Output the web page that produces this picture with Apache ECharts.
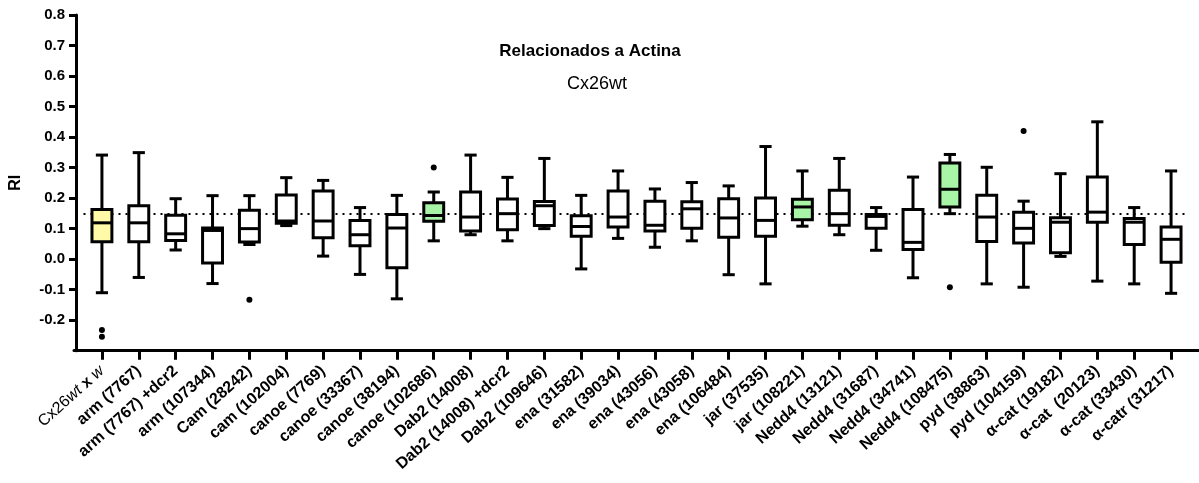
<!DOCTYPE html>
<html>
<head>
<meta charset="utf-8">
<script src="https://cdn.jsdelivr.net/npm/echarts@6/dist/echarts.min.js"></script>
<style>
  html, body { margin: 0; padding: 0; background: #fff; }
  #chart { width: 1199px; height: 483px; }
</style>
</head>
<body>
<div id="chart"></div>
<script>
// Genotype lines (x categories)
const categories = [
  'Cx26wt x w', 'arm (7767)', 'arm (7767) +dcr2', 'arm (107344)', 'Cam (28242)',
  'cam (102004)', 'canoe (7769)', 'canoe (33367)', 'canoe (38194)', 'canoe (102686)',
  'Dab2 (14008)', 'Dab2 (14008) +dcr2', 'Dab2 (109646)', 'ena (31582)', 'ena (39034)',
  'ena (43056)', 'ena (43058)', 'ena (106484)', 'jar (37535)', 'jar (108221)',
  'Nedd4 (13121)', 'Nedd4 (31687)', 'Nedd4 (34741)', 'Nedd4 (108475)', 'pyd (38863)',
  'pyd (104159)', 'α-cat (19182)', 'α-cat  (20123)', 'α-cat (33430)', 'α-catr (31217)'
];

// Box-and-whisker statistics of RI per line
const whiskerLow = [
  -0.110, -0.060, 0.030, -0.080, 0.048, 0.110, 0.010, -0.050, -0.130, 0.060,
  0.080, 0.060, 0.100, -0.032, 0.068, 0.039, 0.060, -0.051, -0.081, 0.108,
  0.080, 0.029, -0.061, 0.149, -0.081, -0.092, 0.009, -0.072, -0.081, -0.112
];
const quartile1 = [
  0.057, 0.057, 0.061, -0.013, 0.056, 0.118, 0.070, 0.044, -0.028, 0.124,
  0.092, 0.096, 0.110, 0.075, 0.105, 0.092, 0.101, 0.072, 0.075, 0.129,
  0.111, 0.101, 0.032, 0.171, 0.058, 0.053, 0.021, 0.121, 0.048, -0.010
];
const medians = [
  0.119, 0.119, 0.083, 0.094, 0.100, 0.125, 0.125, 0.080, 0.102, 0.143,
  0.138, 0.149, 0.175, 0.107, 0.138, 0.111, 0.165, 0.135, 0.127, 0.171,
  0.149, 0.140, 0.055, 0.229, 0.138, 0.101, 0.121, 0.154, 0.121, 0.065
];
const quartile3 = [
  0.163, 0.175, 0.144, 0.102, 0.160, 0.210, 0.223, 0.127, 0.146, 0.185,
  0.220, 0.197, 0.189, 0.142, 0.223, 0.190, 0.188, 0.198, 0.200, 0.196,
  0.226, 0.146, 0.163, 0.315, 0.209, 0.154, 0.136, 0.269, 0.133, 0.105
];
const whiskerHigh = [
  0.341, 0.349, 0.198, 0.208, 0.208, 0.267, 0.258, 0.169, 0.209, 0.220,
  0.341, 0.268, 0.330, 0.209, 0.289, 0.230, 0.251, 0.240, 0.369, 0.289,
  0.330, 0.169, 0.269, 0.343, 0.301, 0.190, 0.280, 0.450, 0.169, 0.289
];

// Individual points outside the whiskers: [category index, RI]
const outliers = [
  [0, -0.232], [0, -0.254], [4, -0.133], [9, 0.300], [23, -0.092], [25, 0.420]
];

// Reference level drawn as a dotted line
const referenceRI = 0.15;

// Y-axis tick values
const yTicks = [-0.2, -0.1, 0.0, 0.1, 0.2, 0.3, 0.4, 0.5, 0.6, 0.7, 0.8];

// Fill colours: control in yellow, selected lines in green
const controlFill = '#FFF9A8';
const hitFill = '#A8F5A8';
const boxFills = { 0: controlFill, 9: hitFill, 19: hitFill, 23: hitFill };

const boxData = categories.map((c, i) =>
  [i, whiskerLow[i], quartile1[i], medians[i], quartile3[i], whiskerHigh[i]]);

const tickFont = '"Liberation Sans", Arial, sans-serif';

function renderBox(params, api) {
  const i = api.value(0);
  const xc = api.coord([i, api.value(3)])[0];
  const yLow = api.coord([i, api.value(1)])[1];
  const yQ1 = api.coord([i, api.value(2)])[1];
  const yMed = api.coord([i, api.value(3)])[1];
  const yQ3 = api.coord([i, api.value(4)])[1];
  const yHigh = api.coord([i, api.value(5)])[1];
  const band = api.size([1, 0])[0];
  const hw = band * 0.27;
  const cw = band * 0.165;
  const line = { stroke: '#000', lineWidth: 3, fill: null };
  return {
    type: 'group',
    children: [
      { type: 'line', shape: { x1: xc, y1: yLow, x2: xc, y2: yQ1 }, style: line },
      { type: 'line', shape: { x1: xc, y1: yQ3, x2: xc, y2: yHigh }, style: line },
      { type: 'line', shape: { x1: xc - cw, y1: yLow, x2: xc + cw, y2: yLow }, style: line },
      { type: 'line', shape: { x1: xc - cw, y1: yHigh, x2: xc + cw, y2: yHigh }, style: line },
      { type: 'rect', shape: { x: xc - hw, y: yQ3, width: 2 * hw, height: yQ1 - yQ3 },
        style: { fill: boxFills[i] || '#fff', stroke: '#000', lineWidth: 3 } },
      { type: 'line', shape: { x1: xc - hw, y1: yMed, x2: xc + hw, y2: yMed }, style: line }
    ]
  };
}

const chart = echarts.init(document.getElementById('chart'), null, { renderer: 'canvas' });

chart.setOption({
  animation: false,
  backgroundColor: '#fff',
  graphic: [
    { type: 'text', x: 590, y: 51,
      style: { text: 'Relacionados a Actina', font: 'bold 17px "Liberation Sans", Arial',
               fill: '#000', textAlign: 'center', textVerticalAlign: 'middle' } },
    { type: 'text', x: 597, y: 84,
      style: { text: 'Cx26wt', font: '18px "Liberation Sans", Arial',
               fill: '#000', textAlign: 'center', textVerticalAlign: 'middle' } }
  ],
  grid: [
    { left: 81.5, right: 9.5, top: 15, bottom: 132.3 },
    { left: 74, right: 0, top: 15, bottom: 132.3 }
  ],
  xAxis: [
    {
      type: 'category',
      gridIndex: 0,
      data: categories,
      boundaryGap: true,
      axisLine: { show: false, onZero: false },
      axisTick: { show: true, alignWithLabel: true, length: 9,
                  lineStyle: { color: '#000', width: 3 } },
      axisLabel: {
        interval: 0,
        rotate: 42,
        margin: 18,
        color: '#000',
        fontFamily: tickFont,
        fontWeight: 'bold',
        fontSize: 16,
        formatter: (v, idx) => idx === 0 ? '{n|Cx26}{i|wt}{b| x }{i|w}' : v,
        rich: {
          n: { fontFamily: tickFont, fontSize: 16, fontWeight: 'normal', color: '#000' },
          i: { fontFamily: tickFont, fontSize: 16, fontWeight: 'normal', fontStyle: 'italic', color: '#000' },
          b: { fontFamily: tickFont, fontSize: 16, fontWeight: 'bold', color: '#000' }
        }
      },
      splitLine: { show: false }
    },
    {
      type: 'value',
      gridIndex: 1,
      min: 0, max: 1,
      axisLine: { show: true, onZero: false, lineStyle: { color: '#000', width: 3 } },
      axisTick: { show: false },
      axisLabel: { show: false },
      splitLine: { show: false }
    }
  ],
  yAxis: [
    {
      type: 'value',
      gridIndex: 0,
      min: -0.3,
      max: 0.8,
      interval: 0.1,
      offset: 7.5,
      name: 'RI',
      nameLocation: 'middle',
      nameGap: 52,
      nameTextStyle: { fontFamily: tickFont, fontWeight: 'bold', fontSize: 16, color: '#000' },
      axisLine: { show: true, onZero: false, lineStyle: { color: '#000', width: 3 } },
      axisTick: { show: true, length: 7, customValues: yTicks,
                  lineStyle: { color: '#000', width: 3 } },
      axisLabel: {
        margin: 11,
        customValues: yTicks,
        color: '#000',
        fontFamily: tickFont,
        fontWeight: 'bold',
        fontSize: 15,
        formatter: v => v.toFixed(1)
      },
      splitLine: { show: false }
    },
    { type: 'value', gridIndex: 1, show: false, min: 0, max: 1 }
  ],
  series: [
    {
      type: 'custom',
      xAxisIndex: 0,
      yAxisIndex: 0,
      renderItem: renderBox,
      encode: { x: 0, y: [1, 2, 3, 4, 5] },
      data: boxData,
      z: 3
    },
    {
      type: 'scatter',
      xAxisIndex: 0,
      yAxisIndex: 0,
      data: outliers,
      symbol: 'circle',
      symbolSize: 6,
      itemStyle: { color: '#000', opacity: 1 },
      z: 4,
      markLine: {
        silent: true,
        symbol: ['none', 'none'],
        label: { show: false },
        lineStyle: { color: '#000', width: 2, type: [2, 5], opacity: 1 },
        data: [{ yAxis: referenceRI }],
        z: 1
      }
    }
  ]
});
</script>
</body>
</html>
